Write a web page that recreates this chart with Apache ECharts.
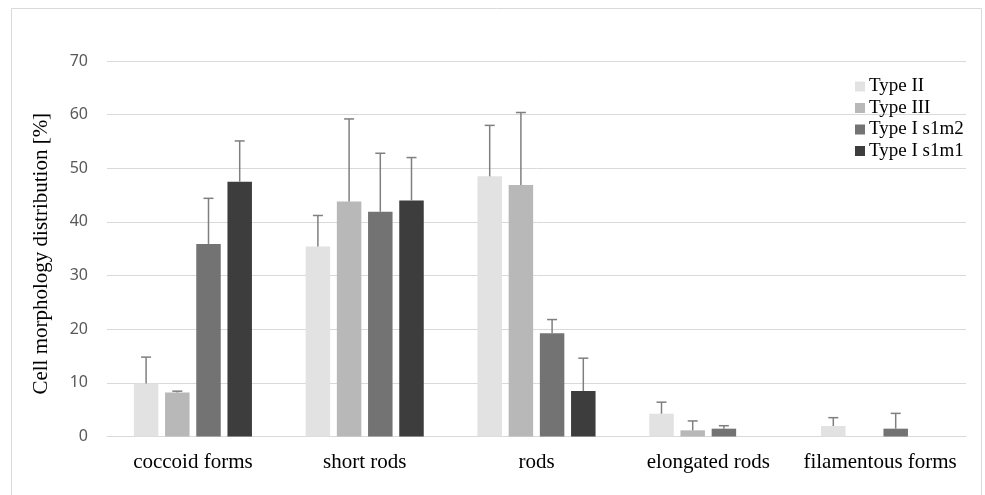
<!DOCTYPE html>
<html>
<head>
<meta charset="utf-8">
<script src="https://cdn.jsdelivr.net/npm/echarts@6/dist/echarts.min.js"></script>
<style>html,body{margin:0;padding:0;background:#fff;}#c{width:985px;height:495px;}</style>
</head>
<body>
<div id="c"></div>
<script>
const categories = ['coccoid forms', 'short rods', 'rods', 'elongated rods', 'filamentous forms'];
const seriesNames = ['Type II', 'Type III', 'Type I s1m2', 'Type I s1m1'];
const typeII      = [9.9, 35.4, 48.5, 4.25, 1.96];
const typeIII     = [8.2, 43.8, 46.9, 1.15, 0];
const typeIs1m2   = [35.9, 41.9, 19.25, 1.46, 1.46];
const typeIs1m1   = [47.5, 44.0, 8.5, 0, 0];
const errII       = [4.9, 5.8, 9.5, 2.15, 1.55];
const errIII      = [0.25, 15.4, 13.5, 1.75, 0];
const errIs1m2    = [8.5, 10.9, 2.55, 0.55, 2.85];
const errIs1m1    = [7.6, 8.0, 6.1, 0, 0];
const yTicks = [0, 10, 20, 30, 40, 50, 60, 70];

const values = [typeII, typeIII, typeIs1m2, typeIs1m1];
const errors = [errII, errIII, errIs1m2, errIs1m1];
const colors = ['#e2e2e2', '#b8b8b8', '#737373', '#3d3d3d'];
const barW = 24.5, gapPx = 6.7;
const nS = values.length;

const series = [];
values.forEach((v, i) => {
  series.push({
    name: seriesNames[i], type: 'bar', data: v,
    barWidth: barW, barGap: (gapPx / barW * 100) + '%',
    itemStyle: { color: colors[i] }, animation: false
  });
});
values.forEach((v, i) => {
  const offset = (i - (nS - 1) / 2) * (barW + gapPx);
  series.push({
    type: 'custom', animation: false, silent: true, z: 5,
    data: v.map((val, k) => [k, val, errors[i][k]]),
    renderItem: function (params, api) {
      const e = api.value(2);
      if (!e) return null;
      const base = api.coord([api.value(0), api.value(1)]);
      const top = api.coord([api.value(0), api.value(1) + e]);
      const x = base[0] + offset;
      const st = { stroke: '#7f7f7f', lineWidth: 1.5 };
      return {
        type: 'group', children: [
          { type: 'line', shape: { x1: x, y1: base[1], x2: x, y2: top[1] }, style: st },
          { type: 'line', shape: { x1: x - 5, y1: top[1], x2: x + 5, y2: top[1] }, style: st }
        ]
      };
    }
  });
});

const chart = echarts.init(document.getElementById('c'), null, { renderer: 'canvas' });
chart.setOption({
  backgroundColor: '#fff',
  animation: false,
  graphic: [{ type: 'rect', shape: { x: 11.5, y: 8.5, width: 970, height: 500 },
    style: { fill: 'none', stroke: '#d9d9d9', lineWidth: 1 }, silent: true }],
  legend: {
    orient: 'vertical', left: 850, top: 72,
    itemWidth: 10, itemHeight: 10, itemGap: 2.5,
    icon: 'rect',
    data: seriesNames,
    textStyle: { fontFamily: 'Liberation Serif', fontSize: 19, color: '#000', lineHeight: 19, padding: [0, 0, 0, -1] }
  },
  grid: { left: 107, right: 19, top: 61, bottom: 58.5, containLabel: false },
  xAxis: {
    type: 'category', data: categories,
    axisLine: { lineStyle: { color: '#d9d9d9', width: 1 } },
    axisTick: { show: false },
    axisLabel: { interval: 0, fontFamily: 'Liberation Serif', fontSize: 21, color: '#000', margin: 15 }
  },
  yAxis: {
    type: 'value', min: 0, max: 70, interval: 10,
    name: 'Cell morphology distribution [%]',
    nameLocation: 'middle', nameGap: 55,
    nameTextStyle: { fontFamily: 'Liberation Serif', fontSize: 21, color: '#000', padding: [0, 0, 0, -10] },
    axisLine: { show: false }, axisTick: { show: false },
    splitLine: { lineStyle: { color: '#d9d9d9', width: 1 } },
    axisLabel: { fontFamily: 'Noto Sans', fontSize: 16, color: '#595959', margin: 19,
      formatter: v => yTicks.includes(v) ? String(v) : '' }
  },
  series: series
});
</script>
</body>
</html>
